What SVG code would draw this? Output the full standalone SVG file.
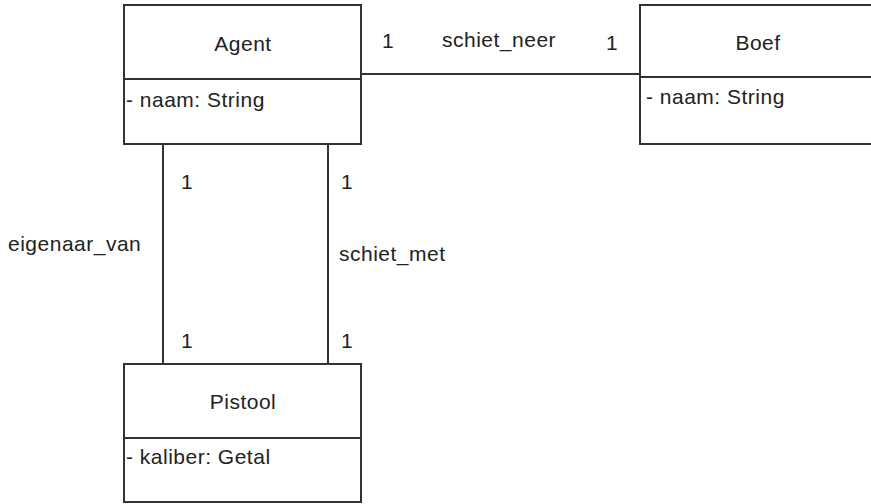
<svg xmlns="http://www.w3.org/2000/svg" width="871" height="504" viewBox="0 0 871 504">
  <style>
    .box { fill: #ffffff; stroke: #333333; stroke-width: 2; }
    .div { stroke: #333333; stroke-width: 2; }
    .edge { stroke: #333333; stroke-width: 2; fill: none; }
    text { font-family: "Liberation Sans", Arial, sans-serif; font-size: 21px; letter-spacing: 0.5px; fill: #222222; }
    .title { text-anchor: middle; }
  </style>
  <rect x="0" y="0" width="871" height="504" fill="#ffffff"/>

  <!-- associations -->
  <g id="connectors">
    <line class="edge" x1="361" y1="74" x2="640" y2="74"/>
    <line class="edge" x1="163" y1="144" x2="163" y2="364"/>
    <line class="edge" x1="328" y1="144" x2="328" y2="364"/>
    <text x="382" y="48">1</text>
    <text x="442" y="47">schiet_neer</text>
    <text x="606" y="50">1</text>
    <text x="181" y="189">1</text>
    <text x="341" y="189">1</text>
    <text x="8" y="251">eigenaar_van</text>
    <text x="339" y="261">schiet_met</text>
    <text x="181" y="348">1</text>
    <text x="341" y="348">1</text>
  </g>

  <!-- class Agent -->
  <g id="agent">
    <rect class="box" x="124" y="5" width="237" height="139"/>
    <line class="div" x1="124" y1="79" x2="361" y2="79"/>
    <text class="title" x="243" y="51">Agent</text>
    <text x="126" y="107">- naam: String</text>
  </g>

  <!-- class Boef -->
  <g id="boef">
    <rect class="box" x="640" y="5" width="237" height="139"/>
    <line class="div" x1="640" y1="77" x2="877" y2="77"/>
    <text class="title" x="758" y="50">Boef</text>
    <text x="646" y="104">- naam: String</text>
  </g>

  <!-- class Pistool -->
  <g id="pistool">
    <rect class="box" x="124" y="364" width="237" height="138"/>
    <line class="div" x1="124" y1="438" x2="361" y2="438"/>
    <text class="title" x="243" y="409">Pistool</text>
    <text x="126" y="464">- kaliber: Getal</text>
  </g>
</svg>
